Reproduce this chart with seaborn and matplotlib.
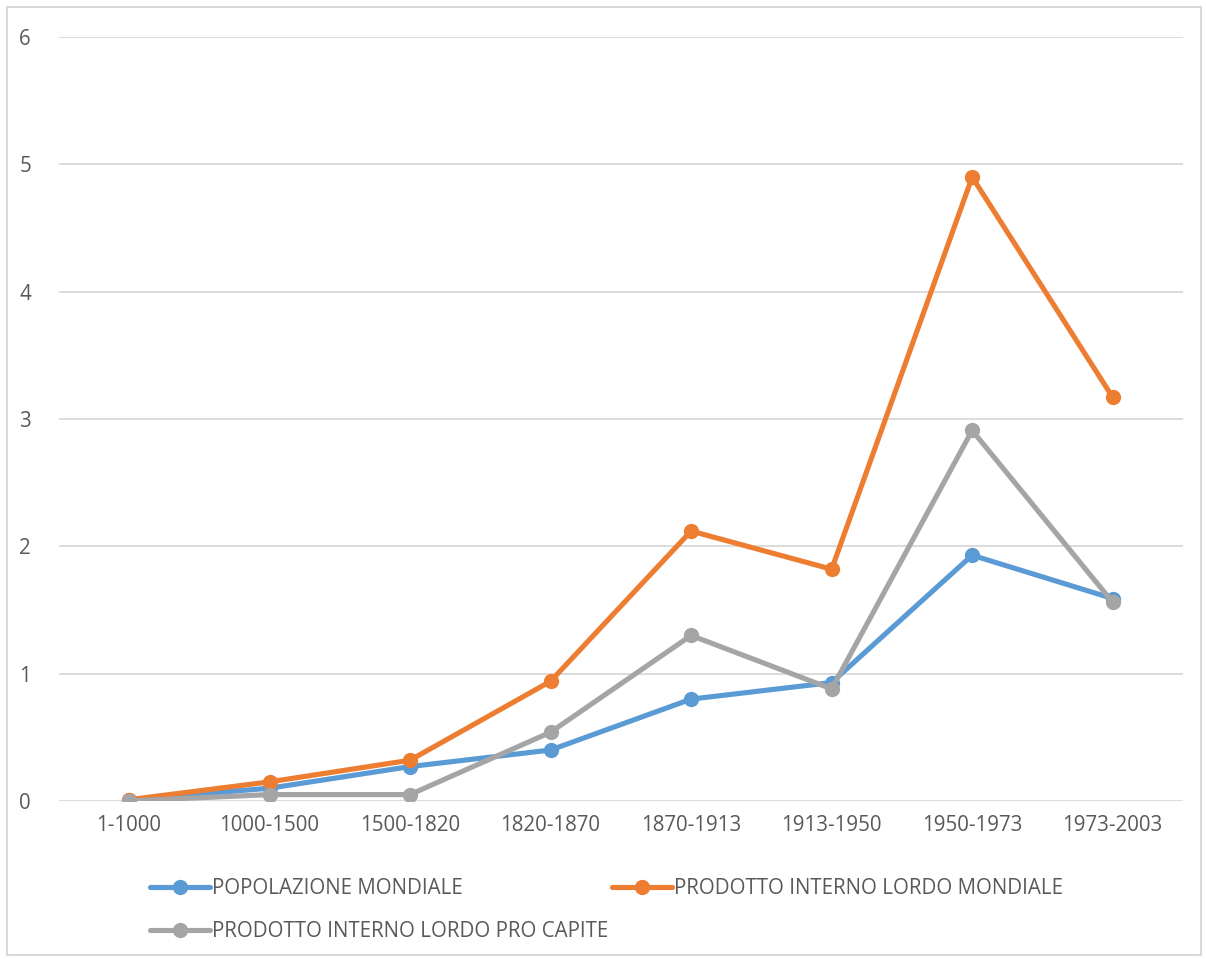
import pandas as pd
import matplotlib.pyplot as plt
import seaborn as sns
from matplotlib.patches import Rectangle

# periods on the x axis
periods = ["1-1000", "1000-1500", "1500-1820", "1820-1870",
           "1870-1913", "1913-1950", "1950-1973", "1973-2003"]

# growth rates
popolazione = [0.01, 0.10, 0.27, 0.40, 0.80, 0.93, 1.93, 1.59]
pil_mondiale = [0.01, 0.15, 0.32, 0.94, 2.12, 1.82, 4.90, 3.17]
pil_pro_capite = [0.00, 0.05, 0.05, 0.54, 1.30, 0.88, 2.91, 1.56]

series_names = ["POPOLAZIONE MONDIALE",
                "PRODOTTO INTERNO LORDO MONDIALE",
                "PRODOTTO INTERNO LORDO PRO CAPITE"]
colors = ["#5B9BD5", "#ED7D31", "#A5A5A5"]

# long-form table for seaborn
df = pd.DataFrame({
    "periodo": periods * 3,
    "valore": popolazione + pil_mondiale + pil_pro_capite,
    "serie": [series_names[0]] * 8 + [series_names[1]] * 8 + [series_names[2]] * 8,
})

sns.set_style("white")
plt.rcParams["font.family"] = ["Open Sans", "DejaVu Sans"]

fig = plt.figure(figsize=(12.06, 9.59), dpi=100)
ax = fig.add_axes([0.0487, 0.1648, 0.9322, 0.7966])

sns.lineplot(data=df, x="periodo", y="valore", hue="serie",
             palette=colors, marker="o", markersize=11, markeredgewidth=0,
             linewidth=3.7, sort=False, ax=ax, legend=False)

ax.set_xlim(-0.5, 7.5)
ax.set_ylim(0, 6)
ax.set_yticks(range(0, 7))
ax.yaxis.grid(True, color="#D9D9D9", linewidth=1.3)
ax.set_axisbelow(True)
for s in ax.spines.values():
    s.set_visible(False)
ax.tick_params(axis="both", length=0, labelsize=14.8, labelcolor="#595959")
ax.tick_params(axis="y", pad=20)
ax.tick_params(axis="x", pad=10)
ax.set_xlabel("")
ax.set_ylabel("")

# legend: blue and orange on first row, gray on second
lines = ax.get_lines()
handles = [lines[0], lines[2], lines[1]]
labels = [series_names[0], series_names[2], series_names[1]]
fig.legend(handles, labels, ncol=2, loc="upper left",
           bbox_to_anchor=(0.109, 0.1035), frameon=False,
           fontsize=14.8, labelcolor="#595959", handlelength=2.9,
           handletextpad=0.1, columnspacing=0.2, labelspacing=1.05)

# outer chart border
fig.patches.append(Rectangle((0.006, 0.004), 0.99, 0.989, transform=fig.transFigure,
                             fill=False, edgecolor="#D9D9D9", linewidth=1.5))

fig.savefig("out.png", dpi=100)
